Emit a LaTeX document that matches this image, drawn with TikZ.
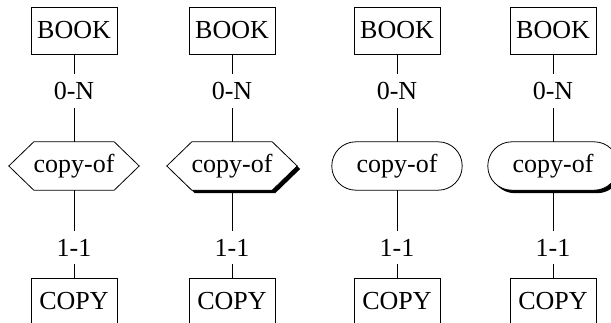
\documentclass[tikz,border=0pt]{standalone}
\usepackage{fontspec}
\setmainfont{Liberation Serif}
\newfontfamily\erfont{Liberation Serif}
\usetikzlibrary{shadows,backgrounds}
\begin{document}
\begin{tikzpicture}[x=1pt,y=-1pt,
  every node/.style={font=\erfont\fontsize{26}{31}\selectfont},
  entity/.style={draw, line width=0.8pt, minimum width=86pt, minimum height=47pt, inner sep=0pt},
  rel/.style={minimum width=130pt, minimum height=48pt, inner sep=0pt},
  card/.style={fill=white, inner xsep=1pt, inner ysep=8pt},
  outline/.style={draw, line width=0.8pt, fill=white},
  shad/.style={drop shadow={shadow xshift=3pt, shadow yshift=-3pt, opacity=1, fill=black}},
  conn/.style={line width=0.8pt}]
\clip (0,0) rectangle (611,323);
% column nodes
\foreach \i/\x in {1/74,2/232,3/397,4/553}{
  \node[entity] (b\i) at (\x,30.5) {BOOK};
  \node[rel] (r\i) at (\x,166) {copy-of};
  \node[entity] (c\i) at (\x,301.5) {COPY};
}
\begin{scope}[on background layer]
  \fill[white] (0,0) rectangle (611,323);
  \path[outline] (r1.west) -- ([xshift=25pt]r1.north west) -- ([xshift=-25pt]r1.north east) -- (r1.east) -- ([xshift=-25pt]r1.south east) -- ([xshift=25pt]r1.south west) -- cycle;
  \path[outline,shad] (r2.west) -- ([xshift=25pt]r2.north west) -- ([xshift=-25pt]r2.north east) -- (r2.east) -- ([xshift=-25pt]r2.south east) -- ([xshift=25pt]r2.south west) -- cycle;
  \path[outline,rounded corners=24pt] (r3.south west) rectangle (r3.north east);
  \path[outline,shad,rounded corners=24pt] (r4.south west) rectangle (r4.north east);
\end{scope}
\foreach \i in {1,2,3,4}{
  \draw[conn] (b\i) -- node[card,pos=0.42] {0-N} (r\i);
  \draw[conn] (r\i) -- node[card,pos=0.66] {1-1} (c\i);
}
\end{tikzpicture}
\end{document}
